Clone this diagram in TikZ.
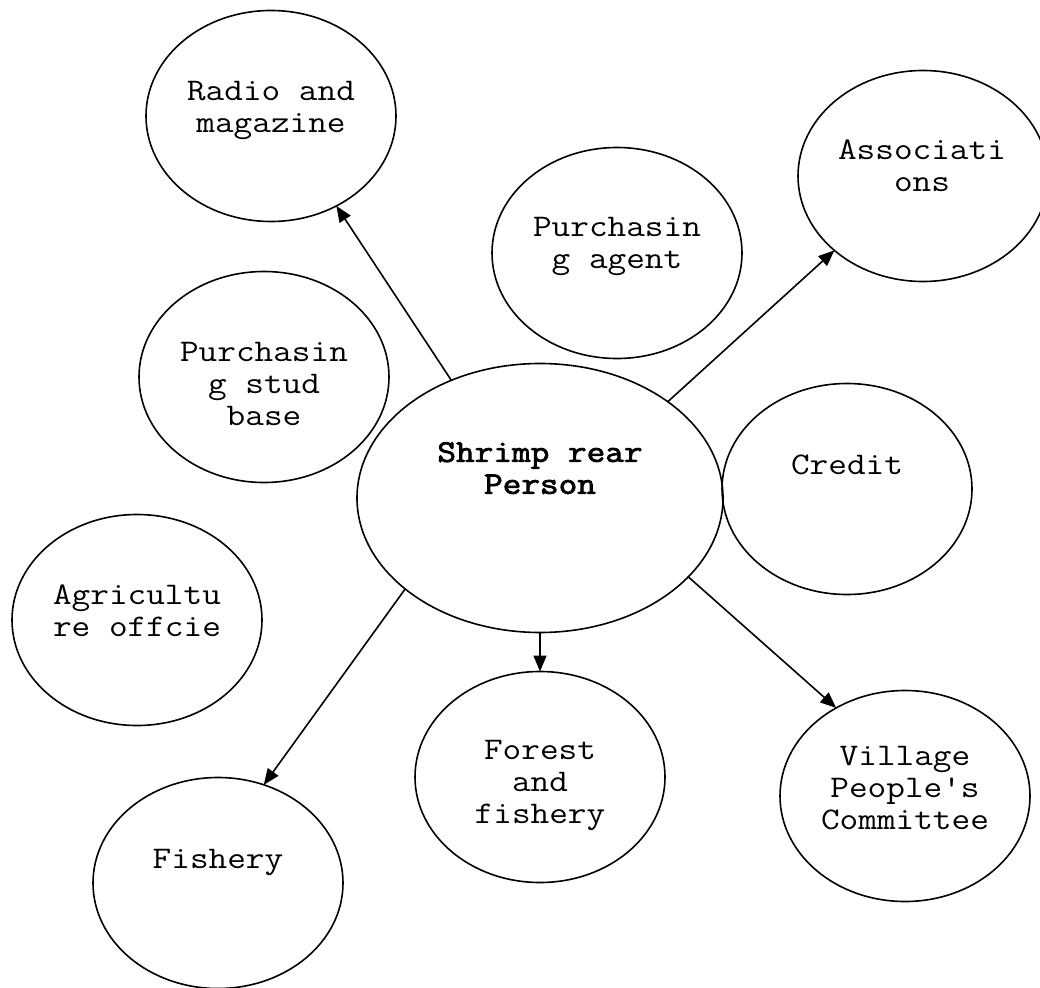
\documentclass[tikz,border=0pt]{standalone}
\usepackage{fontspec}
\setmainfont{Latin Modern Mono}[FakeStretch=1.15, Ligatures=TeXOff]
\newfontfamily\boldmono{Latin Modern Mono}[FakeStretch=1.15, FakeBold=2.5, Ligatures=TeXOff]
\usetikzlibrary{shapes.geometric,arrows.meta}
\tikzset{
  bubble/.style={ellipse, draw, line width=1.6pt, minimum width=250pt, minimum height=211pt, inner sep=0pt, outer sep=0pt},
  txt/.style={anchor=north, inner sep=0pt, align=center, font=\fontsize{31.5}{32}\selectfont, execute at begin node={\rule{0pt}{22pt}}},
  conn/.style={line width=1.6pt, -{Triangle[length=16pt,width=13pt]}}
}
\begin{document}
\begin{tikzpicture}[x=1pt,y=-1pt]
\useasboundingbox (0,0) rectangle (1040,987);
\node[bubble] (radio) at (271,116) {};
\node[bubble] (assoc) at (923,176) {};
\node[bubble] (agent) at (617,253) {};
\node[bubble] (stud) at (264,377) {};
\node[bubble, minimum width=366pt, minimum height=269pt] (shrimp) at (540,498) {};
\node[bubble] (credit) at (847,489) {};
\node[bubble] (agri) at (137,620) {};
\node[bubble] (forest) at (540,777) {};
\node[bubble] (village) at (905,796) {};
\node[bubble] (fishery) at (218,883) {};

\node[txt] (radio-t) at (271,81) {Radio and\\magazine};
\node[txt] (assoc-t) at (922,140) {Associati\\ons};
\node[txt] (agent-t) at (617,217) {Purchasin\\g agent};
\node[txt] (stud-t) at (264,342) {Purchasin\\g stud\\base};
\node[txt, font=\fontsize{31.5}{32}\boldmono] (shrimp-t) at (540,442) {Shrimp rear\\Person};
\node[txt] (credit-t) at (847,452) {Credit};
\node[txt] (agri-t) at (137,585) {Agricultu\\re offcie};
\node[txt] (forest-t) at (540,740) {Forest\\and\\fishery};
\node[txt] (village-t) at (905,746) {Village\\People's\\Committee};
\node[txt] (fishery-t) at (218,846) {Fishery};

\draw[conn] (shrimp.127) -- (radio.306);
\draw[conn] (shrimp.37.5) -- (assoc.220);
\draw[conn] (shrimp.270) -- (forest.90);
\draw[conn] (shrimp.332) -- (village.128);
\draw[conn] (shrimp.214) -- (fishery.65.6);
\end{tikzpicture}
\end{document}
